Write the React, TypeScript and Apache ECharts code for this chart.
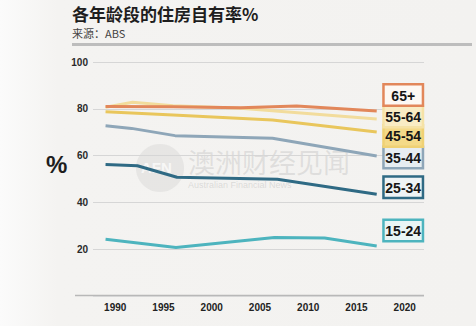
import React, { useEffect, useRef } from "react";
import * as echarts from "echarts";

const xTickYears = [1990, 1995, 2000, 2005, 2010, 2015, 2020];
const yTicks = [0, 20, 40, 60, 80, 100];

const ageGroups = ["65+", "55-64", "45-54", "35-44", "25-34", "15-24"];

const s65plus: [number, number][] = [[1989, 81.0], [1996, 80.9], [2003, 80.4], [2008.8, 81.2], [2017.1, 79.0]];
const s55to64: [number, number][] = [[1989, 80.6], [1991.8, 82.8], [1996, 81.3], [2003, 80.2], [2017.1, 75.6]];
const s45to54: [number, number][] = [[1989, 78.7], [1996, 77.3], [2006.3, 75.2], [2017.1, 70.1]];
const s35to44: [number, number][] = [[1989, 72.7], [1991.7, 71.6], [1996.2, 68.5], [2006.3, 67.4], [2017.1, 59.8]];
const s25to34: [number, number][] = [[1989, 56.2], [1992.3, 55.6], [1996.4, 50.7], [2006.8, 49.8], [2017.1, 43.4]];
const s15to24: [number, number][] = [[1989, 24.2], [1996.3, 20.6], [2006.5, 24.9], [2011.7, 24.7], [2017.1, 21.3]];

const seriesData = [s65plus, s55to64, s45to54, s35to44, s25to34, s15to24];

const lineColors = ["#e2875a", "#f2dc9c", "#e9c65c", "#8ea6b8", "#2f6a84", "#4db4be"];
const boxFills = ["#fdf8f3", "#f9ecc4", "#f4da88", "#e7edf1", "#eef3f5", "#e9f5f5"];
const boxBorders = ["#e2875a", "#f5e2a6", "#efd174", "#8ea6b8", "#2f6a84", "#4db4be"];
const labelOffsets = [-16, -2.5, 4, 1.5, -7, -15.5];

export default function App() {
  const ref = useRef<HTMLDivElement>(null);
  useEffect(() => {
    document.body.style.margin = "0";
    const chart = echarts.init(ref.current!, null, { renderer: "svg" });
    const series = ageGroups.map((name, i) => ({
      name,
      type: "line",
      data: seriesData[i],
      showSymbol: false,
      lineStyle: { width: 3, color: lineColors[i] },
      itemStyle: { color: lineColors[i] },
      z: 10 - i,
      endLabel: {
        show: true,
        distance: 8,
        offset: [0, labelOffsets[i]],
        formatter: "{a|" + name + "}",
        backgroundColor: boxFills[i],
        borderColor: boxBorders[i],
        borderWidth: 2.5,
        padding: [1, 2, 0, 2],
        rich: {
          a: {
            width: 33,
            height: 17,
            lineHeight: 18,
            align: "center",
            fontSize: 14,
            fontWeight: "bold",
            fontFamily: "'Liberation Sans', Arimo, sans-serif",
            color: "#161616",
          },
        },
      },
    }));
    chart.setOption({
      animation: false,
      backgroundColor: {
        type: "linear",
        x: 0, y: 0, x2: 1, y2: 0,
        colorStops: [
          { offset: 0, color: "#fbfbfb" },
          { offset: 0.12, color: "#f4f3f1" },
          { offset: 1, color: "#f3f2f0" },
        ],
      },
      grid: { left: 93, right: 52, top: 62, bottom: 30.25 },
      xAxis: {
        type: "value",
        min: 1987.7,
        max: 2022,
        splitLine: { show: false },
        axisLine: { show: false },
        axisTick: { show: false },
        axisLabel: {
          customValues: xTickYears,
          formatter: (v: number) => String(v),
          fontSize: 10,
          fontWeight: "bold",
          fontFamily: "'Liberation Sans', sans-serif",
          color: "#222",
          margin: 7,
        },
      },
      yAxis: {
        type: "value",
        min: yTicks[0],
        max: yTicks[yTicks.length - 1],
        interval: 20,
        axisLine: { show: false },
        axisTick: { show: false },
        splitLine: { lineStyle: { color: "#d6d6d6", width: 1 } },
        axisLabel: {
          showMinLabel: false,
          fontSize: 10,
          fontWeight: "bold",
          fontFamily: "'Liberation Sans', sans-serif",
          color: "#2a2a2a",
          margin: 5,
        },
      },
      graphic: [
        { type: "text", left: 72, top: 5, style: { text: "各年龄段的住房自有率%", font: "bold 17px 'Noto Sans CJK SC', sans-serif", fill: "#1e1e1e" } },
        { type: "text", left: 72, top: 27, style: { text: "来源：ABS", font: "11px 'Noto Sans CJK SC', sans-serif", fill: "#444" } },
        { type: "rect", shape: { x: 72, y: 43, width: 400, height: 3 }, style: { fill: "#bdbdbd" } },
        { type: "text", left: 46, top: 152, style: { text: "%", font: "bold 24px 'Liberation Sans', sans-serif", fill: "#1e1e1e" } },
        { type: "line", shape: { x1: 75, y1: 295.5, x2: 424, y2: 295.5 }, style: { stroke: "#b8b8b8", lineWidth: 1.5 } },
        { type: "circle", shape: { cx: 160, cy: 168, r: 24 }, style: { fill: "rgba(190,190,190,0.25)" }, z: 0 },
        { type: "text", left: 141, top: 160, style: { text: "AFN", font: "bold 15px 'Liberation Sans', sans-serif", fill: "rgba(255,255,255,0.7)" }, z: 0 },
        { type: "text", left: 188, top: 148, style: { text: "澳洲财经见闻", font: "27px 'Noto Sans CJK SC', sans-serif", fill: "rgba(170,170,170,0.28)" }, z: 0 },
        { type: "text", left: 188, top: 180, style: { text: "Australian Financial News", font: "9px 'Liberation Sans', sans-serif", fill: "rgba(170,170,170,0.35)" }, z: 0 },
      ],
      series,
    });
    return () => chart.dispose();
  }, []);
  return <div ref={ref} style={{ width: 476, height: 326, position: "absolute", left: 0, top: 0 }} />;
}
